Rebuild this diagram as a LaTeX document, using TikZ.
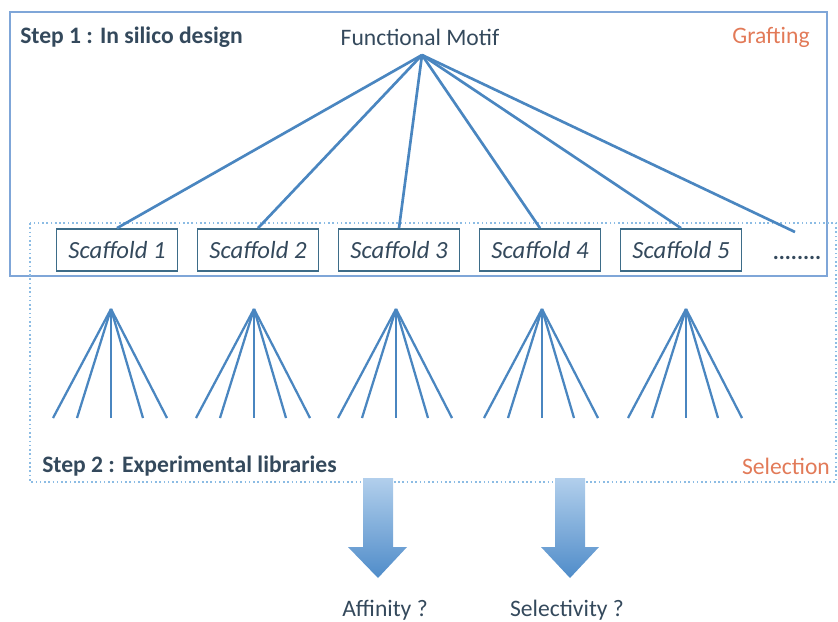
\documentclass[tikz,border=0pt]{standalone}
\usepackage{fontspec}
\setmainfont{Carlito}
\usepackage{xcolor}
\usetikzlibrary{positioning}

\definecolor{lineblue}{HTML}{4A86C0}
\definecolor{boxteal}{HTML}{3D6C88}
\definecolor{frameblue}{HTML}{7FA6D8}
\definecolor{dotblue}{HTML}{8CBCE4}
\definecolor{textslate}{HTML}{34495C}
\definecolor{tagorange}{HTML}{E27A58}
\definecolor{arrowtop}{HTML}{B2CFEC}
\definecolor{arrowbot}{HTML}{4F8CC9}

\begin{document}
\begin{tikzpicture}[
    x=0.75pt, y=-0.75pt,
    title/.style={font=\fontsize{17.7}{21}\selectfont\bfseries, text=textslate, anchor=west, inner sep=0pt},
    tag/.style={font=\fontsize{17.7}{21}\selectfont, text=tagorange, inner sep=0pt},
    plain/.style={font=\fontsize{17.7}{21}\selectfont, text=textslate, inner sep=0pt},
    scaffold/.style={rectangle, draw=boxteal, line width=1.3pt, minimum width=90.75pt, minimum height=31.5pt, font=\fontsize{18.5}{22}\selectfont\itshape, text=textslate, inner sep=0pt},
    link/.style={draw=lineblue, line width=2pt},
    fan/.style={draw=lineblue, line width=1.7pt},
    bigarrow/.style={top color=arrowtop, bottom color=arrowbot, draw=none},
]
    \useasboundingbox (0,0) rectangle (838,621);

    % Frames
    \draw[frameblue, line width=1pt] (10,12) rectangle (827,276);
    \draw[dotblue, line width=1.2pt, dotted] (30,223) rectangle (836,482);

    % Labels
    \node[title] (step1) at (20,37) {Step 1 : In silico design};
    \node[plain] (motif) at (420,37) {Functional Motif};
    \node[tag] (grafting) at (771,37) {Grafting};
    \node[title] (step2) at (42,466) {Step 2 : Experimental libraries};
    \node[tag] (selection) at (786,466) {Selection};
    \coordinate (root) at (422,55);

    % Scaffolds
    \foreach \i/\x in {1/117,2/258,3/399,4/540,5/681}
        \node[scaffold] (sc\i) at (\x,250) {Scaffold \i};
    \node[font=\fontsize{17}{20}\selectfont\bfseries, text=textslate] (more) at (797,258) {........};
    \coordinate (moretop) at (795,232);

    % Grafting links
    \foreach \i in {1,...,5}
        \draw[link] (root) -- (sc\i.north);
    \draw[link] (root) -- (moretop);

    % Libraries
    \foreach \i/\x in {1/111,2/254,3/396,4/542,5/686} {
        \coordinate (apex\i) at (\x,309);
        \foreach \j/\dx in {a/-58,b/-34,c/0,d/32,e/56} {
            \coordinate (leaf\i\j) at (\x+\dx,418);
            \draw[fan] (apex\i) -- (leaf\i\j);
        }
    }

    % Screening arrows
    \shade[bigarrow] (363,478) -- (393,478) -- (393,547) -- (407,547) -- (378,578) -- (348,547) -- (363,547) -- cycle;
    \shade[bigarrow] (555,478) -- (585,478) -- (585,547) -- (599,547) -- (570,578) -- (541,547) -- (555,547) -- cycle;
    \node[plain] (affinity) at (385,610) {Affinity ?};
    \node[plain] (selectivity) at (567,610) {Selectivity ?};
\end{tikzpicture}
\end{document}
